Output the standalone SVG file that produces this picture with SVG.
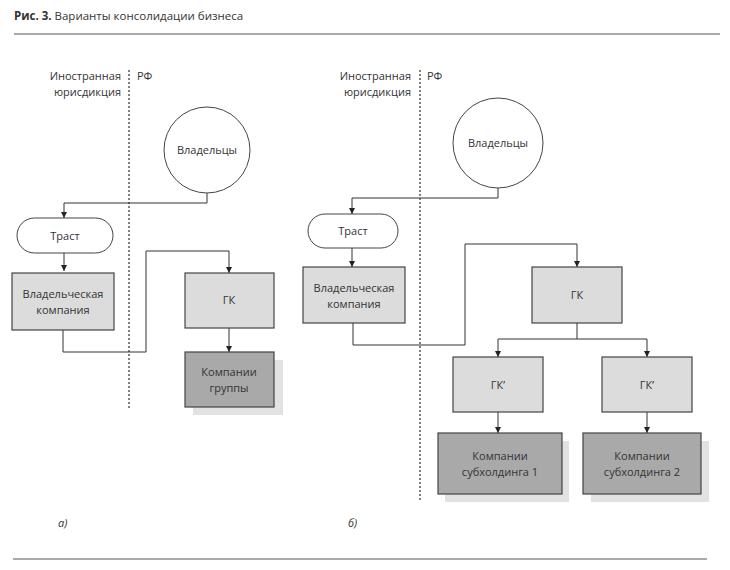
<svg xmlns="http://www.w3.org/2000/svg" width="730" height="570" viewBox="0 0 730 570">
<defs>
<marker id="ah" viewBox="0 0 6 6" refX="6" refY="3" markerWidth="6" markerHeight="6" markerUnits="userSpaceOnUse" orient="auto">
<path d="M0,0 L6,3 L0,6 z" fill="#222"/>
</marker>
</defs>
<style>
text{font-family:"Open Sans","Liberation Sans",sans-serif;font-size:11px;fill:#333}
.t{text-anchor:middle}
.r{text-anchor:end}
.light{fill:#dcdcdc;stroke:#444;stroke-width:1.2}
.dark{fill:#a9a9a9;stroke:#444;stroke-width:1.2}
.shadow{fill:#e2e2e2;stroke:none}
.white{fill:#fff;stroke:#444;stroke-width:1}
.conn{fill:none;stroke:#333;stroke-width:1}
.arr{fill:none;stroke:#333;stroke-width:1;marker-end:url(#ah)}
.dot{stroke:#555;stroke-width:1.5;stroke-dasharray:2,2;fill:none}
.rule{stroke:#555;stroke-width:1.2}
.lab{font-style:italic;font-size:11px}
</style>
<rect width="730" height="570" fill="#fff"/>
<g id="title">
<text x="14" y="20" style="font-size:11.5px"><tspan font-weight="bold">Рис. 3.</tspan> Варианты консолидации бизнеса</text>
<line class="rule" x1="14" y1="34" x2="720" y2="34"/>
<line class="rule" x1="13" y1="559" x2="707" y2="559"/>
</g>
<g id="juris-a">
<text class="r" x="121" y="80">Иностранная</text>
<text class="r" x="121" y="96">юрисдикция</text>
<text x="137" y="80">РФ</text>
<line class="dot" x1="129" y1="70" x2="129" y2="408"/>
</g>
<g id="juris-b">
<text class="r" x="411" y="80">Иностранная</text>
<text class="r" x="411" y="96">юрисдикция</text>
<text x="427" y="80">РФ</text>
<line class="dot" x1="420" y1="70" x2="420" y2="500"/>
</g>
<g id="connectors">
<path class="arr" d="M207,193 V203 H64 V218"/>
<path class="arr" d="M64,253 V271"/>
<path class="arr" d="M63,330 V352 H146 V251 H229 V273"/>
<path class="arr" d="M229,328 V352"/>
<path class="arr" d="M498,188 V198 H352 V214"/>
<path class="arr" d="M352,248 V267"/>
<path class="arr" d="M353,323 V345 H465 V244 H577 V267"/>
<path class="conn" d="M577,323 V339"/>
<path class="arr" d="M498,339 H647 V357"/>
<path class="arr" d="M498,339 V357"/>
<path class="arr" d="M498,412 V433"/>
<path class="arr" d="M647,412 V433"/>
</g>
<g id="owners-a">
<circle class="white" cx="207" cy="150" r="43"/>
<text class="t" x="207" y="154">Владельцы</text>
</g>
<g id="trust-a">
<rect class="white" x="17" y="218" width="96" height="35" rx="17.5"/>
<text class="t" x="65" y="240">Траст</text>
</g>
<g id="owncomp-a">
<rect class="light" x="12" y="273" width="102" height="57"/>
<text class="t" x="63" y="298">Владельческая</text>
<text class="t" x="63" y="314">компания</text>
</g>
<g id="gk-a">
<rect class="light" x="185" y="273" width="89" height="55"/>
<text class="t" x="229" y="304">ГК</text>
</g>
<g id="group-a">
<rect class="shadow" x="193" y="360" width="90" height="55"/>
<rect class="dark" x="185" y="352" width="89" height="55"/>
<text class="t" x="229" y="376">Компании</text>
<text class="t" x="229" y="392">группы</text>
</g>
<text class="lab" x="58" y="527">а)</text>
<g id="owners-b">
<circle class="white" cx="498" cy="143" r="45"/>
<text class="t" x="498" y="147">Владельцы</text>
</g>
<g id="trust-b">
<rect class="white" x="308" y="214" width="90" height="34" rx="17"/>
<text class="t" x="353" y="235">Траст</text>
</g>
<g id="owncomp-b">
<rect class="light" x="303" y="267" width="102" height="56"/>
<text class="t" x="354" y="292">Владельческая</text>
<text class="t" x="354" y="308">компания</text>
</g>
<g id="gk-b">
<rect class="light" x="532" y="267" width="90" height="56"/>
<text class="t" x="577" y="299">ГК</text>
</g>
<g id="gk1-b">
<rect class="light" x="453" y="357" width="90" height="55"/>
<text class="t" x="498" y="389">ГК’</text>
</g>
<g id="gk2-b">
<rect class="light" x="602" y="357" width="90" height="55"/>
<text class="t" x="647" y="389">ГК’</text>
</g>
<g id="sub1-b">
<rect class="shadow" x="445" y="441" width="124" height="61"/>
<rect class="dark" x="438" y="433" width="124" height="61"/>
<text class="t" x="500" y="460">Компании</text>
<text class="t" x="500" y="476">субхолдинга 1</text>
</g>
<g id="sub2-b">
<rect class="shadow" x="591" y="441" width="118" height="61"/>
<rect class="dark" x="583" y="433" width="118" height="61"/>
<text class="t" x="642" y="460">Компании</text>
<text class="t" x="642" y="476">субхолдинга 2</text>
</g>
<text class="lab" x="348" y="527">б)</text>
</svg>
